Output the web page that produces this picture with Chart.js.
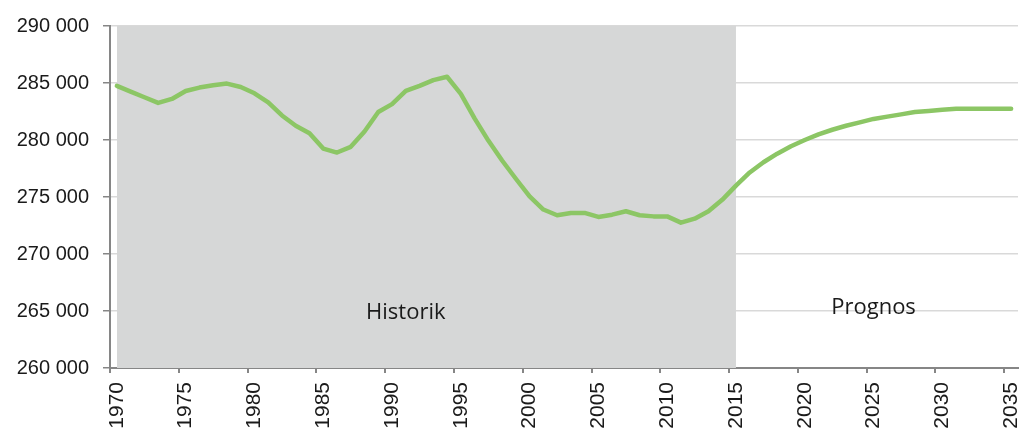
<!DOCTYPE html>
<html lang="sv">
<head>
<meta charset="utf-8">
<title>Befolkning – historik och prognos</title>
<script src="https://cdn.jsdelivr.net/npm/chart.js@4.4.0/dist/chart.umd.min.js"></script>
<style>
  html, body { margin: 0; padding: 0; background: #fff; }
  #wrap { width: 1022px; height: 430px; position: relative; }
</style>
</head>
<body>
<div id="wrap"><canvas id="lineChart"></canvas></div>
<script>
// Years on the category axis
const years = [
  '1970','1971','1972','1973','1974','1975','1976','1977','1978','1979',
  '1980','1981','1982','1983','1984','1985','1986','1987','1988','1989',
  '1990','1991','1992','1993','1994','1995','1996','1997','1998','1999',
  '2000','2001','2002','2003','2004','2005','2006','2007','2008','2009',
  '2010','2011','2012','2013','2014','2015','2016','2017','2018','2019',
  '2020','2021','2022','2023','2024','2025','2026','2027','2028','2029',
  '2030','2031','2032','2033','2034','2035'
];

// Population 1970-2015 (historik)
const historik = [
  284750, 284250, 283750, 283250, 283600, 284300, 284600, 284800, 284950, 284650,
  284100, 283300, 282150, 281250, 280600, 279250, 278900, 279400, 280750, 282450,
  283150, 284300, 284750, 285250, 285550, 284050, 281900, 279950, 278200, 276600,
  275050, 273900, 273400, 273600, 273600, 273250, 273450, 273750, 273400, 273300,
  273300, 272750, 273100, 273750, 274750, 276000
];

// Population 2016-2035 (prognos)
const prognos = [
  277150, 278050, 278800, 279450, 280000, 280500, 280900, 281250, 281550, 281850,
  282050, 282250, 282450, 282550, 282650, 282750, 282750, 282750, 282750, 282750
];

// Y axis range and tick step
const yMin = 260000;
const yMax = 290000;
const yStep = 5000;

// Last historic year (end of the grey band)
const historikSlut = '2015';

// Text labels inside the chart: [text, year, value]
const omraden = [
  ['Historik', '1991', 264320],
  ['Prognos', '2025', 264750]
];

const befolkning = historik.concat(prognos);
const band = years.map(y => (y <= historikSlut ? yMax : null));

function formatTal(v) {
  return String(v).replace(/\B(?=(\d{3})+(?!\d))/g, ' ');
}

// Draws the "Historik" / "Prognos" texts at data positions
const textPlugin = {
  id: 'omradesText',
  afterDatasetsDraw(chart) {
    const ctx = chart.ctx;
    const xs = chart.scales.x;
    const ys = chart.scales.y;
    ctx.save();
    ctx.font = '22px "Open Sans"';
    ctx.fillStyle = '#1a1a1a';
    ctx.textAlign = 'center';
    ctx.textBaseline = 'alphabetic';
    omraden.forEach(([text, year, value]) => {
      ctx.fillText(text, xs.getPixelForValue(years.indexOf(year)), ys.getPixelForValue(value));
    });
    ctx.restore();
  }
};

const axisGrey = '#868686';

const ctx = document.getElementById('lineChart').getContext('2d');
const lineChart = new Chart(ctx, {
  type: 'line',
  data: {
    labels: years,
    datasets: [
      {
        label: 'Befolkning',
        data: befolkning,
        borderColor: '#8cc665',
        borderWidth: 4.5,
        borderCapStyle: 'round',
        borderJoinStyle: 'round',
        pointRadius: 0,
        tension: 0,
        fill: false,
        order: 0,
      },
      {
        label: 'Historik',
        data: band,
        borderWidth: 0,
        borderColor: 'rgba(0,0,0,0)',
        backgroundColor: '#d6d7d7',
        pointRadius: 0,
        fill: 'start',
        spanGaps: false,
        order: 1,
      },
    ],
  },
  options: {
    responsive: true,
    maintainAspectRatio: false,
    animation: false,
    layout: { padding: { left: 10, right: 4, top: 23, bottom: 0 } },
    plugins: {
      legend: { display: false },
      tooltip: { enabled: false },
    },
    scales: {
      x: {
        type: 'category',
        offset: true,
        border: { color: axisGrey, width: 2 },
        grid: {
          offset: true,
          drawOnChartArea: false,
          drawTicks: true,
          tickLength: 5,
          lineWidth: 2,
          tickColor: (c) => (years[c.index] && Number(years[c.index]) % 5 === 0 ? axisGrey : 'rgba(0,0,0,0)'),
          color: 'rgba(0,0,0,0)',
        },
        ticks: {
          autoSkip: false,
          maxRotation: 90,
          minRotation: 90,
          padding: 9,
          color: '#1a1a1a',
          font: { family: '"Liberation Sans", Arial, sans-serif', size: 21 },
          callback: (v, i) => (Number(years[i]) % 5 === 0 ? years[i] : ''),
        },
        afterFit(scale) {
          scale.height = 62;
          // keep the plot running almost to the right edge, like the original
          scale.paddingLeft = 0;
          scale.paddingRight = 0;
        },
      },
      y: {
        min: yMin,
        max: yMax,
        border: { color: axisGrey, width: 2 },
        grid: {
          color: '#d9d9d9',
          lineWidth: 1.5,
          tickColor: axisGrey,
          tickLength: 7,
        },
        ticks: {
          stepSize: yStep,
          padding: 14,
          color: '#1a1a1a',
          font: { family: '"Liberation Sans", Arial, sans-serif', size: 20 },
          callback: (v) => formatTal(v),
        },
        afterFit(scale) { scale.width = 100; },
      },
    },
  },
  plugins: [textPlugin],
});
</script>
</body>
</html>
